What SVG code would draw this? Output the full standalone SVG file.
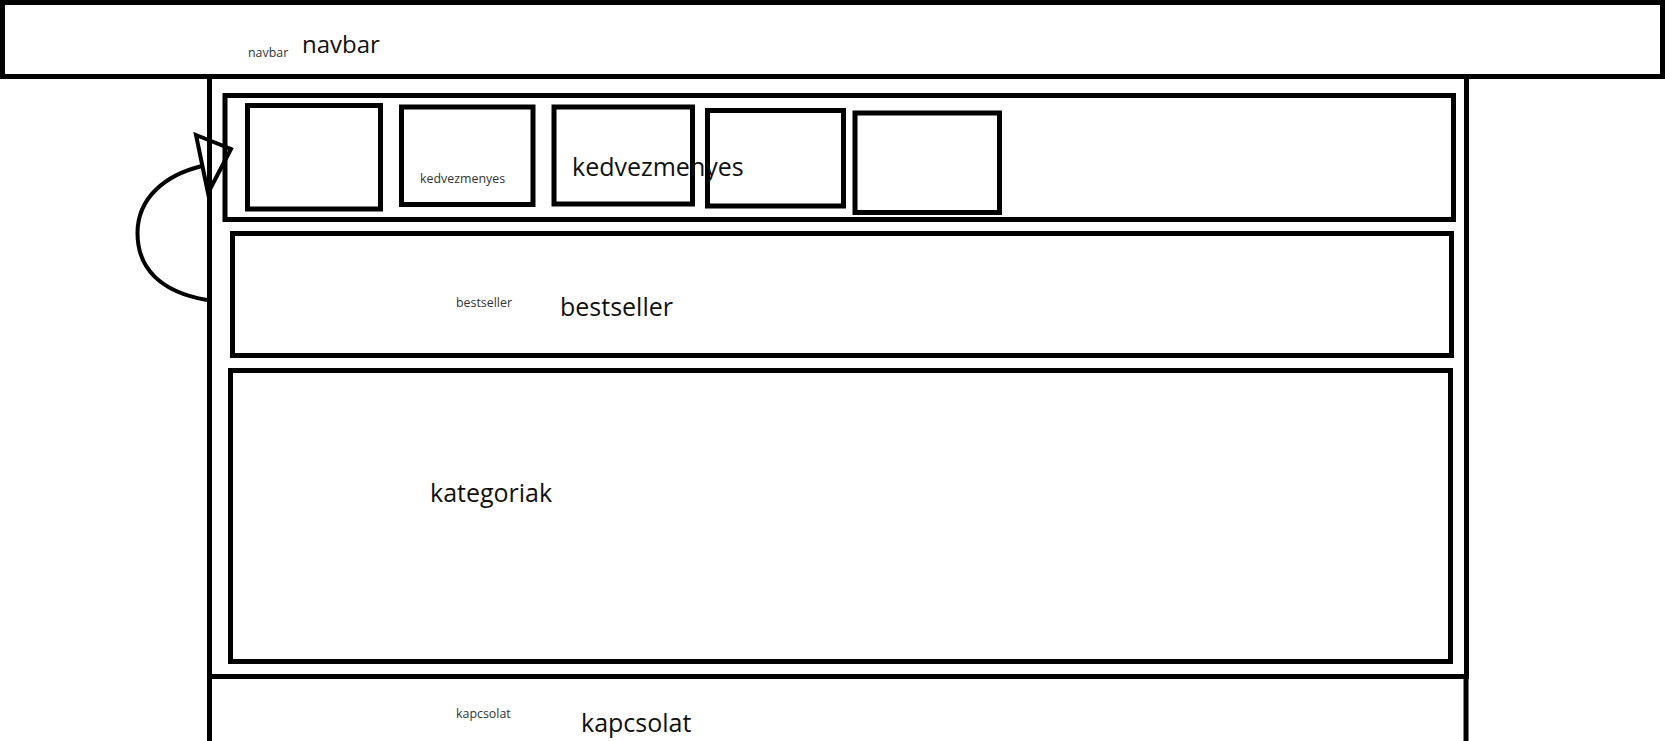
<svg xmlns="http://www.w3.org/2000/svg" width="1665" height="741" viewBox="0 0 1665 741">
<style>
.box{fill:none;stroke:#000;stroke-width:5}
.big{font-family:"Open Sans","Noto Sans",sans-serif;font-size:25px;fill:#111}
.small{font-family:"Open Sans","Noto Sans",sans-serif;font-size:12.4px;fill:#333}
.conn{fill:none;stroke:#000;stroke-width:4}
</style>
<rect width="1665" height="741" fill="#fff"/>
<g id="navbar">
<rect class="box" x="2.5" y="2.5" width="1660" height="74"/>
<text class="small" x="248" y="57">navbar</text>
<text class="big" x="302" y="53" style="font-size:24px">navbar</text>
</g>
<g id="container">
<rect class="box" x="209.5" y="76.5" width="1257" height="600"/>
</g>
<g id="kedvezmenyes">
<rect class="box" x="225" y="95.5" width="1228.5" height="124"/>
<rect class="box" x="247.5" y="105.5" width="133" height="103.5"/>
<rect class="box" x="401.5" y="107" width="131.5" height="97.5"/>
<rect class="box" x="554" y="107" width="138.5" height="97"/>
<rect class="box" x="707.5" y="110.5" width="136" height="95.5"/>
<rect class="box" x="855" y="113" width="144.5" height="99.5"/>
<text class="small" x="420" y="183">kedvezmenyes</text>
<text class="big" x="572" y="176">kedvezmenyes</text>
</g>
<g id="bestseller">
<rect class="box" x="232.5" y="233.5" width="1219" height="122"/>
<text class="small" x="456" y="307">bestseller</text>
<text class="big" x="560" y="316">bestseller</text>
</g>
<g id="kategoriak">
<rect class="box" x="230.5" y="370.5" width="1220" height="291"/>
<text class="big" x="430" y="502">kategoriak</text>
</g>
<g id="kapcsolat">
<rect class="box" x="209.5" y="676.5" width="1256.5" height="100"/>
<text class="small" x="456" y="718">kapcsolat</text>
<text class="big" x="581" y="732">kapcsolat</text>
</g>
<g id="connectors">
<path class="conn" d="M207,300 C160,292 137.5,268 137.5,233 C137.5,198 165,175 202,166"/>
<polygon class="conn" points="196,135 231,149 208,193" stroke-linejoin="miter"/>
</g>
</svg>
